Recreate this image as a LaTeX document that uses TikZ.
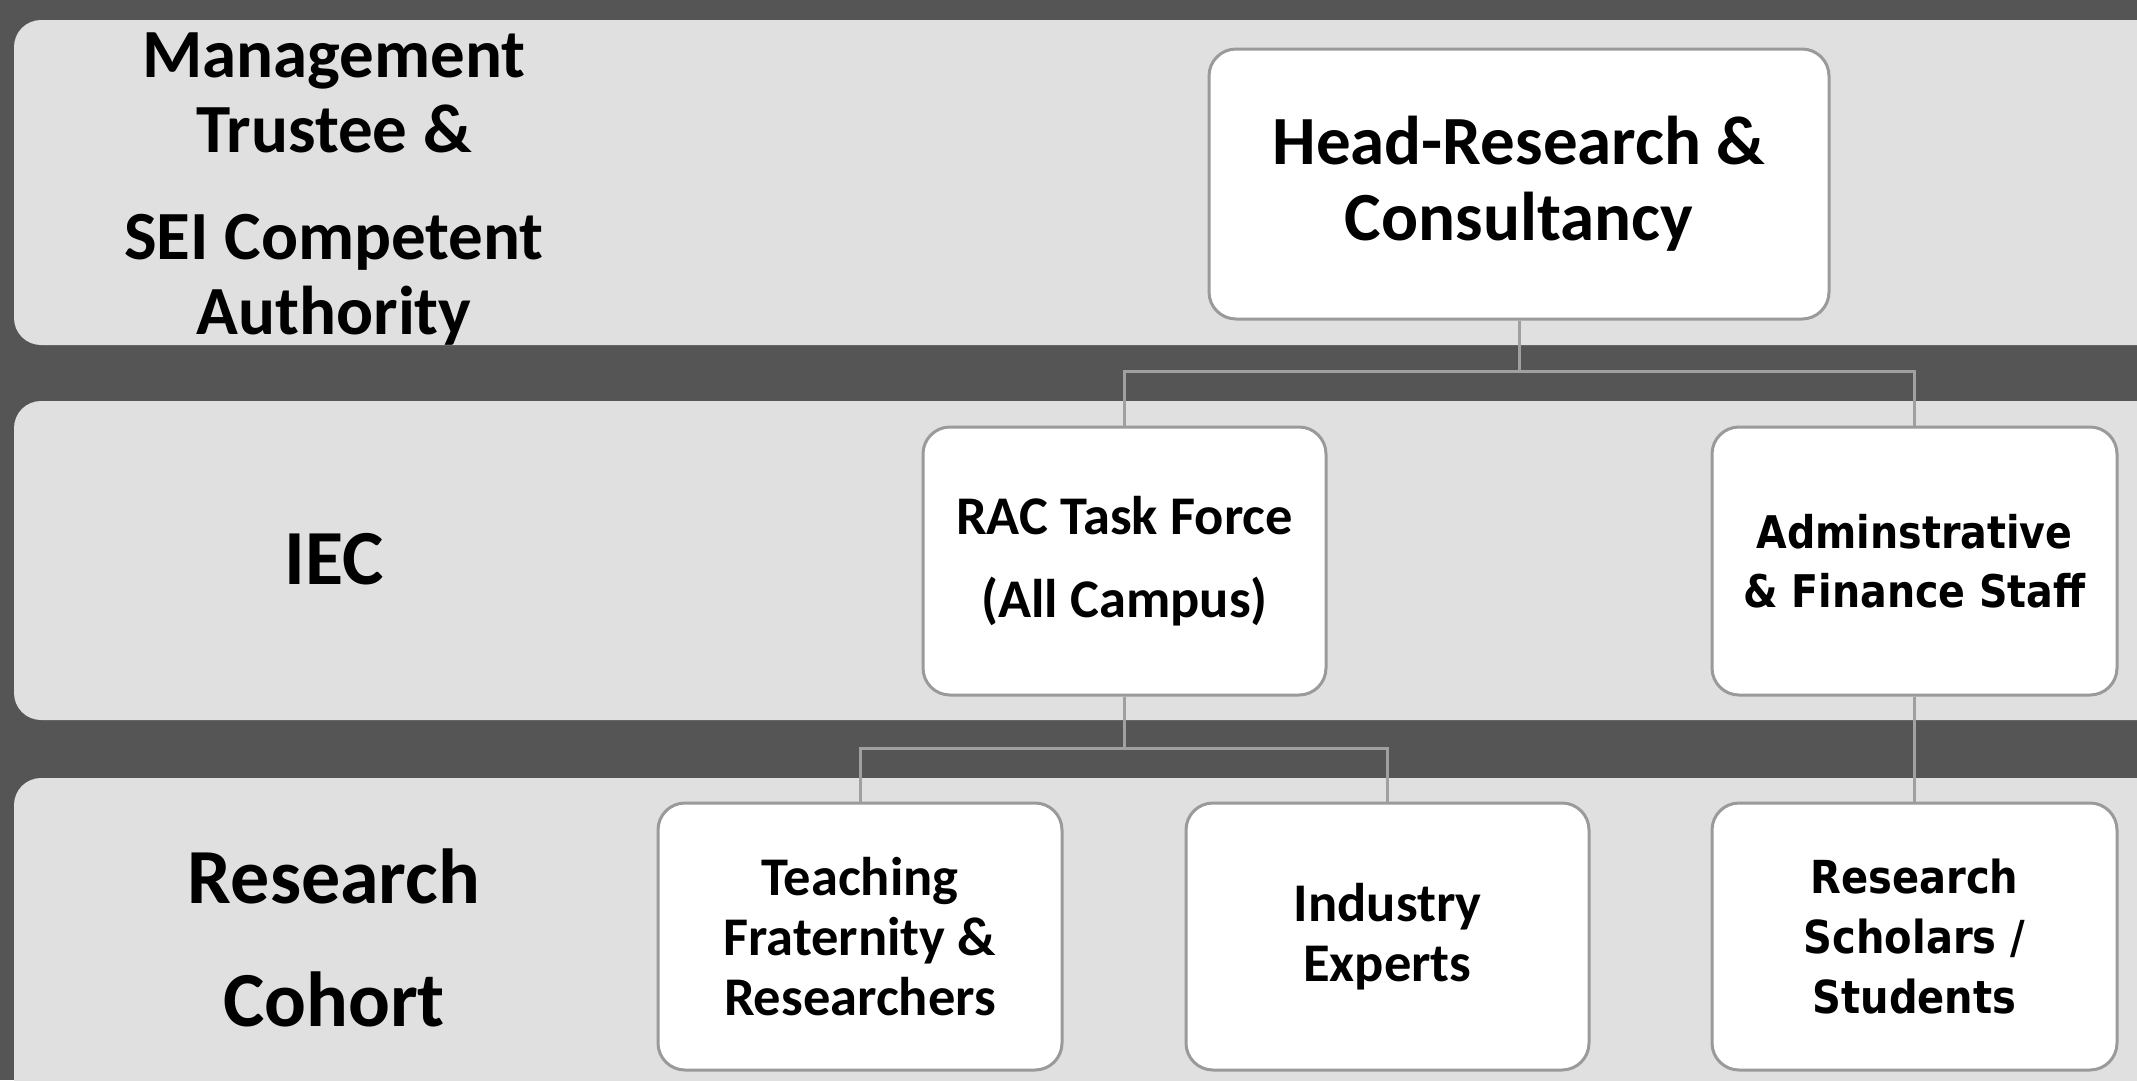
\documentclass[tikz,border=0pt]{standalone}
\usepackage{fontspec}
\setmainfont{Carlito}
\newfontfamily\tah{DejaVu Sans}[FakeStretch=0.88]
\definecolor{darkbg}{HTML}{555555}
\definecolor{bandgray}{HTML}{E0E0E0}
\definecolor{boxgray}{HTML}{9A9A9A}
\definecolor{linegray}{HTML}{A0A0A0}
\tikzset{
  band/.style={fill=bandgray, draw=none, rounded corners=27pt},
  orgbox/.style={draw=boxgray, line width=3pt, fill=white, rounded corners=27pt,
    align=center, inner sep=0pt, text=black},
  conn/.style={draw=linegray, line width=3pt},
  lefttext/.style={align=center, inner sep=0pt, text=black, font=\bfseries}
}
\begin{document}
\begin{tikzpicture}[x=1pt,y=-1pt]
\useasboundingbox (0,0) rectangle (2137,1080);
\clip (0,0) rectangle (2137,1080);
\fill[darkbg] (0,0) rectangle (2137,1080);
% bands
\path[band] (14,20) rectangle (2200,345);
\path[band] (14,401) rectangle (2200,720);
\path[band] (14,778) rectangle (2200,1130);
% left labels
\node[lefttext, font=\fontsize{69}{75}\selectfont\bfseries] (mgmt) at (334,189)
  {Management\\Trustee \&\\[32pt]SEI Competent\\Authority};
\node[lefttext, font=\fontsize{78}{90}\selectfont\bfseries] (iec) at (334,559) {IEC};
\node[lefttext, font=\fontsize{78}{123}\selectfont\bfseries] (cohort) at (334,938)
  {Research\\Cohort};
% boxes
\node[orgbox, minimum width=620pt, minimum height=270pt,
  font=\fontsize{69}{76}\selectfont\bfseries] (head) at (1519,184)
  {Head-Research \&\\Consultancy};
\node[orgbox, minimum width=403pt, minimum height=268pt,
  font=\fontsize{54.5}{83}\selectfont\bfseries] (rac) at (1124.5,561)
  {RAC Task Force\\(All Campus)};
\node[orgbox, minimum width=405pt, minimum height=268pt,
  font=\tah\fontsize{45}{59}\selectfont\bfseries] (admin) at (1914.5,561)
  {Adminstrative\\\& Finance Staff};
\node[orgbox, minimum width=404pt, minimum height=267pt,
  font=\fontsize{54.5}{60}\selectfont\bfseries] (teach) at (860,936.5)
  {Teaching\\Fraternity \&\\Researchers};
\node[orgbox, minimum width=403pt, minimum height=267pt,
  font=\fontsize{54.5}{60}\selectfont\bfseries] (ind) at (1387.5,936.5)
  {Industry\\Experts};
\node[orgbox, minimum width=405pt, minimum height=267pt,
  font=\tah\fontsize{45.5}{60}\selectfont\bfseries] (schol) at (1914.5,936.5)
  {Research\\Scholars /\\Students};
% connectors
\coordinate (j1) at (1519,371);
\coordinate (j2) at (1124.5,748);
\draw[conn] (head.south) -- (j1);
\draw[conn] (rac.north) |- (j1) -| (admin.north);
\draw[conn] (rac.south) -- (j2);
\draw[conn] (teach.north) |- (j2) -| (ind.north);
\draw[conn] (admin.south) -- (schol.north);
\end{tikzpicture}
\end{document}
